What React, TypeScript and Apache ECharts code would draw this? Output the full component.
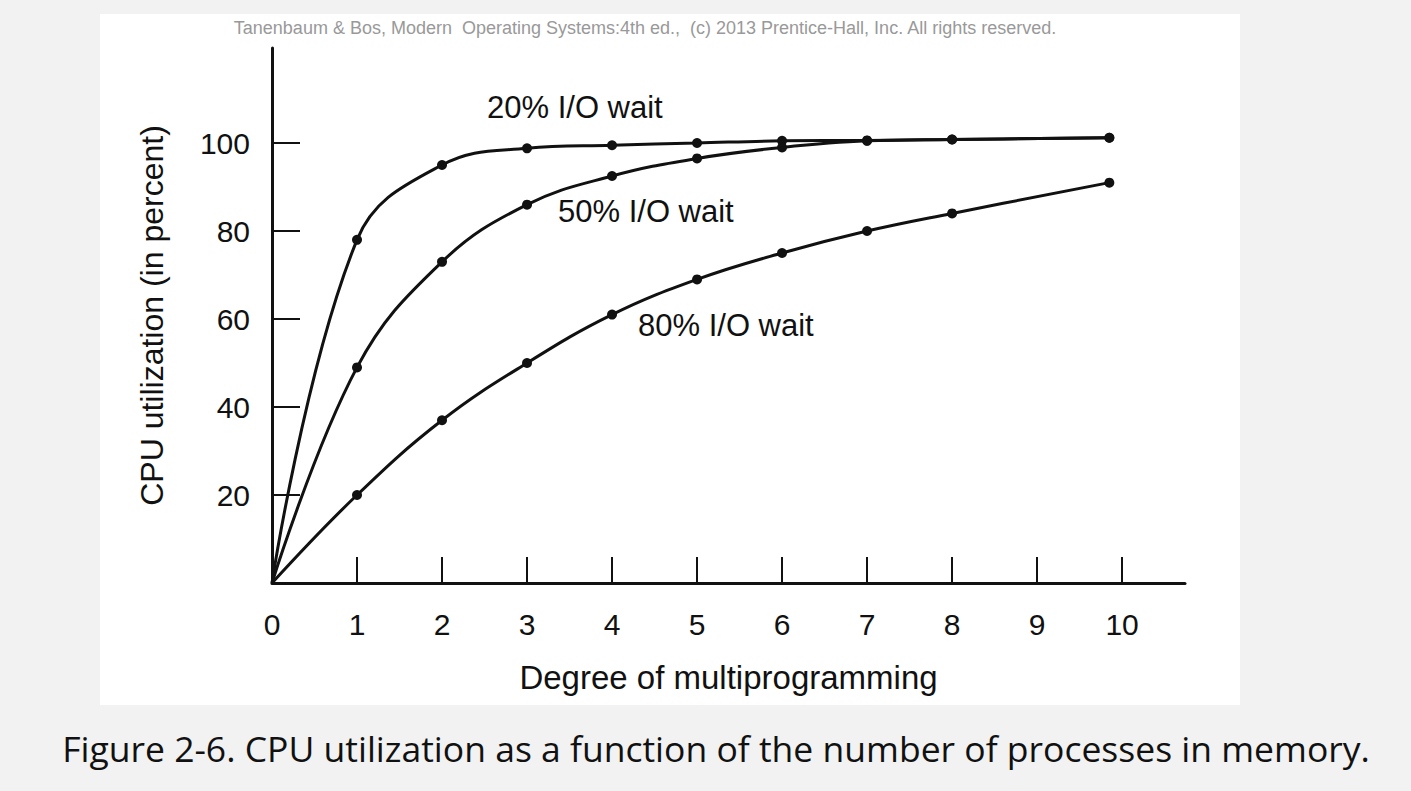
import React, { useEffect, useRef } from "react";
import * as echarts from "echarts";

const io20X = [0, 1, 2, 3, 4, 5, 6, 7, 8, 9.85];
const io20Y = [0, 78, 95, 98.8, 99.5, 100, 100.5, 100.6, 100.8, 101.2];
const io50X = [0, 1, 2, 3, 4, 5, 6, 7, 8, 9.85];
const io50Y = [0, 49, 73, 86, 92.5, 96.5, 99, 100.5, 100.8, 101.2];
const io80X = [0, 1, 2, 3, 4, 5, 6, 7, 8, 9.85];
const io80Y = [0, 20, 37, 50, 61, 69, 75, 80, 84, 91];
const seriesNames = ["20% I/O wait", "50% I/O wait", "80% I/O wait"];
const yTicks = [20, 40, 60, 80, 100];
const xTicks = [1, 2, 3, 4, 5, 6, 7, 8, 9, 10];
const xLabels = [0, 1, 2, 3, 4, 5, 6, 7, 8, 9, 10];

const FONT = "Liberation Sans";

const App: React.FC = () => {
  const chartRef = useRef<HTMLDivElement>(null);

  useEffect(() => {
    if (!chartRef.current) return;
    const chart = echarts.init(chartRef.current, undefined, { renderer: "svg" });
    const mk = (xs: number[], ys: number[], name: string) => ({
      type: "line" as const,
      name,
      smooth: 0.4,
      data: xs.map((x, i) => [x, ys[i]]),
      symbol: "circle",
      symbolSize: (v: number[]) => (v[0] === 0 ? 0 : 10),
      lineStyle: { color: "#111", width: 3 },
      itemStyle: { color: "#111" },
    });
    const option: echarts.EChartsOption = {
      animation: false,
      backgroundColor: "#f2f2f2",
      grid: { left: 272, top: 48, right: 226, bottom: 208 },
      graphic: [
        { type: "rect", shape: { x: 100, y: 14, width: 1140, height: 691 }, style: { fill: "#fff" }, z: -10 },
        { type: "text", x: 645, y: 28, style: { text: "Tanenbaum & Bos, Modern  Operating Systems:4th ed.,  (c) 2013 Prentice-Hall, Inc. All rights reserved.", fill: "#999", font: `18px '${FONT}'`, align: "center", verticalAlign: "middle" } },
        { type: "text", x: 487, y: 107, style: { text: seriesNames[0], fill: "#111", font: `31px '${FONT}'`, verticalAlign: "middle" } },
        { type: "text", x: 558, y: 211, style: { text: seriesNames[1], fill: "#111", font: `31px '${FONT}'`, verticalAlign: "middle" } },
        { type: "text", x: 638, y: 325, style: { text: seriesNames[2], fill: "#111", font: `31px '${FONT}'`, verticalAlign: "middle" } },
        { type: "text", x: 716, y: 748, style: { text: "Figure 2-6. CPU utilization as a function of the number of processes in memory.", fill: "#111", font: `35.5px 'Open Sans'`, align: "center", verticalAlign: "middle" } },
      ],
      xAxis: {
        type: "value", min: 0, max: 10.74, interval: 1,
        name: "Degree of multiprogramming", nameLocation: "middle", nameGap: 78,
        nameTextStyle: { fontSize: 33, color: "#111", fontFamily: FONT },
        splitLine: { show: false },
        axisLine: { lineStyle: { color: "#111", width: 3 } },
        axisTick: { inside: true, length: 26, customValues: xTicks, lineStyle: { color: "#111", width: 2 } },
        axisLabel: { fontSize: 30, color: "#111", fontFamily: FONT, margin: 26, customValues: xLabels },
      },
      yAxis: {
        type: "value", min: 0, max: 121.6, interval: 20,
        name: "CPU utilization (in percent)", nameLocation: "middle", nameGap: 104, nameRotate: 90,
        nameTextStyle: { fontSize: 32, color: "#111", fontFamily: FONT },
        splitLine: { show: false },
        axisLine: { show: true, lineStyle: { color: "#111", width: 3 } },
        axisTick: { inside: true, length: 28, customValues: yTicks, lineStyle: { color: "#111", width: 2 } },
        axisLabel: { fontSize: 30, color: "#111", fontFamily: FONT, margin: 22, customValues: yTicks },
      },
      series: [mk(io20X, io20Y, seriesNames[0]), mk(io50X, io50Y, seriesNames[1]), mk(io80X, io80Y, seriesNames[2])],
    };
    chart.setOption(option);
    return () => chart.dispose();
  }, []);

  return <div ref={chartRef} style={{ position: "absolute", left: 0, top: 0, width: 1411, height: 791 }} />;
};

export default App;
